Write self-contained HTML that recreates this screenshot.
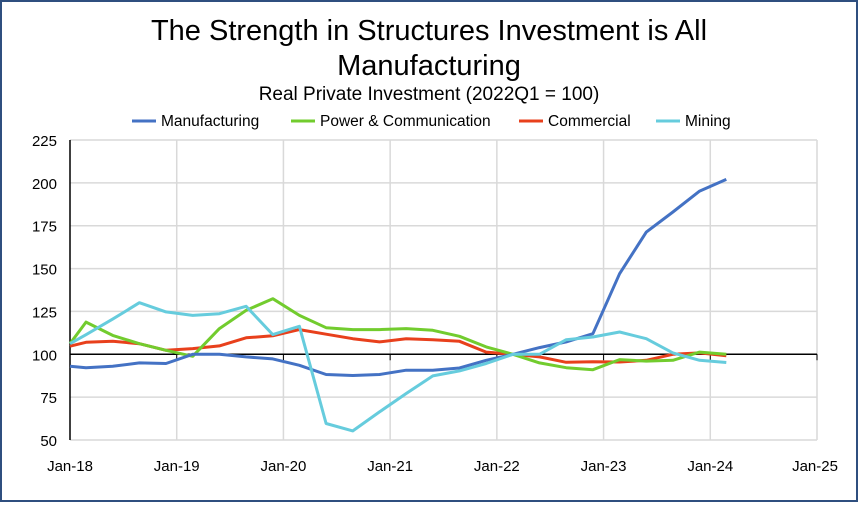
<!DOCTYPE html>
<html><head><meta charset="utf-8"><style>
body{margin:0;background:#fff;}
#wrap{position:relative;width:858px;height:502px;}
svg{font-family:"Liberation Sans",sans-serif;}
</style></head><body>
<div id="wrap">
<svg id="chart" width="858" height="502">
<rect x="1" y="1" width="856" height="500" fill="#fff" stroke="#2F4F7F" stroke-width="2"/>
<text x="429" y="40" text-anchor="middle" font-size="29" fill="#000">The Strength in Structures Investment is All</text>
<text x="429" y="75" text-anchor="middle" font-size="29" fill="#000">Manufacturing</text>
<text x="429" y="100" text-anchor="middle" font-size="19" fill="#000">Real Private Investment (2022Q1 = 100)</text>
<g id="legend"></g>
<g id="grid"></g>
<g id="axes"></g>
<g id="series"></g>
</svg>
</div>
<script>
const seriesNames = ["Manufacturing","Power & Communication","Commercial","Mining"];
const seriesColors = ["#4472C4","#72CC2E","#E8401C","#66CCDD"];
const dates = [2018.0,2018.15,2018.4,2018.65,2018.9,2019.15,2019.4,2019.65,2019.9,2020.15,2020.4,2020.65,2020.9,2021.15,2021.4,2021.65,2021.9,2022.15,2022.4,2022.65,2022.9,2023.15,2023.4,2023.65,2023.9,2024.15];
const manufacturing = [93,92.2,93,95,94.6,100,100,98.5,97.3,93.6,88.2,87.6,88.2,90.7,90.7,92,96.5,100,103.9,107.2,112,147,171.3,183,195.2,202];
const power = [106.2,118.8,111,106.2,102.3,98.8,115,125.6,132.4,122.7,115.5,114.4,114.4,115,114,110.5,104.3,100,95,92.2,91,96.9,96,96.5,101.3,100];
const commercial = [104.7,107,107.6,106.2,102.3,103.3,104.9,109.6,110.8,114.4,111.7,109.1,107.2,109.1,108.5,107.6,101.3,100,98.5,95.3,95.7,95.5,96.5,100,100.8,99.2];
const mining = [106.2,111.4,120.5,130.1,124.7,122.7,123.7,128,111.5,116.3,59.6,55.3,66.4,77.1,87.4,90.3,94.6,100,100,108.5,110.1,113,109.1,100.8,96.5,95.2];
const yTicks = [50,75,100,125,150,175,200,225];
const xTickYears = [2018,2019,2020,2021,2022,2023,2024,2025];
const xTickLabels = ["Jan-18","Jan-19","Jan-20","Jan-21","Jan-22","Jan-23","Jan-24","Jan-25"];

const NS="http://www.w3.org/2000/svg";
const X0=70,X1=817,Y0=440,Y1=140;
const xs=d=>X0+(d-2018)/7*(X1-X0);
const ys=v=>Y0-(v-50)/175*(Y0-Y1);
function mk(tag,attrs,parent){const e=document.createElementNS(NS,tag);for(const k in attrs)e.setAttribute(k,attrs[k]);parent.appendChild(e);return e;}
const grid=document.getElementById('grid'),axes=document.getElementById('axes'),ser=document.getElementById('series'),leg=document.getElementById('legend');
yTicks.forEach(t=>{
  const l=mk('line',{x1:X0,x2:X1,y1:ys(t),y2:ys(t),stroke:'#D9D9D9','stroke-width':1.5},grid);
  
  
  const tx=mk('text',{x:57,y:ys(t)+6,'text-anchor':'end','font-size':15,fill:'#000'},axes);
  tx.textContent=t;
  
  
});
xTickYears.forEach((yr,i)=>{
  if(i>0){const l=mk('line',{x1:xs(yr),x2:xs(yr),y1:Y1,y2:Y0,stroke:'#D9D9D9','stroke-width':1.5},grid);
  
  }
  const tk=mk('line',{x1:xs(yr),x2:xs(yr),y1:ys(100),y2:ys(100)+6,stroke:'#000','stroke-width':1},axes);
  
  
  const tx=mk('text',{x:Math.min(xs(yr),815),y:471,'text-anchor':'middle','font-size':15,fill:'#000'},axes);
  tx.textContent=xTickLabels[i];
  
  
});
const ya=mk('line',{x1:X0,x2:X0,y1:Y1,y2:Y0,stroke:'#000','stroke-width':1.5},axes);


const xa=mk('line',{x1:X0,x2:X1,y1:ys(100),y2:ys(100),stroke:'#000','stroke-width':1.5},axes);


const allSeries=[manufacturing,power,commercial,mining];
const order=[2,1,0,3];
order.forEach(si=>{
  const pts=allSeries[si].map((v,i)=>xs(dates[i]).toFixed(1)+','+ys(v).toFixed(1)).join(' ');
  const p=mk('polyline',{points:pts,fill:'none',stroke:seriesColors[si],'stroke-width':3,'stroke-linejoin':'round'},ser);
  
  
});
const legX=[132,291,519,656];
seriesNames.forEach((n,i)=>{
  const l=mk('line',{x1:legX[i],x2:legX[i]+24,y1:121,y2:121,stroke:seriesColors[i],'stroke-width':3},leg);
  
  
  const t=mk('text',{x:legX[i]+29,y:126,'font-size':15.5,fill:'#000'},leg);
  t.textContent=n;
  
  
});
</script>
</body></html>
